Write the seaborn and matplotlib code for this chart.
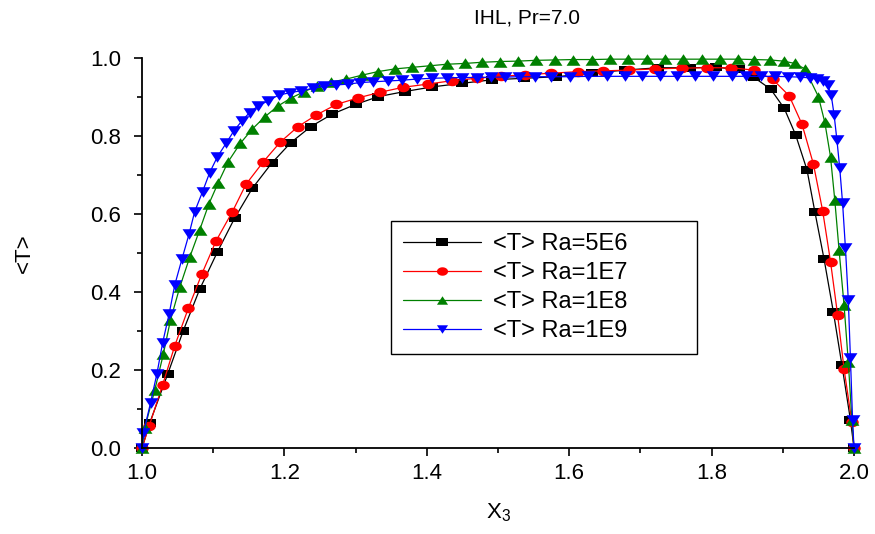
import matplotlib
matplotlib.use("Agg")
import matplotlib.pyplot as plt
import seaborn as sns
import numpy as np
import pandas as pd
from matplotlib.ticker import MultipleLocator, FormatStrFormatter
from matplotlib.path import Path

# ---- data ----
x_5e6 = [1.000, 1.011, 1.036, 1.058, 1.081, 1.106, 1.130, 1.155, 1.182, 1.209,
         1.237, 1.267, 1.300, 1.332, 1.369, 1.408, 1.449, 1.491, 1.537, 1.582,
         1.632, 1.678, 1.725, 1.770, 1.806, 1.839, 1.859, 1.883, 1.902, 1.918,
         1.934, 1.945, 1.958, 1.971, 1.983, 1.995, 2.000]
t_5e6 = [0.000, 0.065, 0.189, 0.301, 0.407, 0.503, 0.589, 0.666, 0.730, 0.783,
         0.824, 0.856, 0.881, 0.901, 0.914, 0.926, 0.935, 0.944, 0.948, 0.952,
         0.961, 0.969, 0.975, 0.975, 0.976, 0.971, 0.951, 0.920, 0.871, 0.803,
         0.713, 0.606, 0.484, 0.349, 0.213, 0.072, 0.000]

x_1e7 = [1.000, 1.010, 1.029, 1.046, 1.065, 1.084, 1.104, 1.127, 1.146, 1.170,
         1.194, 1.219, 1.245, 1.273, 1.304, 1.334, 1.367, 1.401, 1.436, 1.470,
         1.504, 1.538, 1.575, 1.612, 1.648, 1.684, 1.720, 1.758, 1.793, 1.827,
         1.859, 1.886, 1.909, 1.927, 1.943, 1.956, 1.967, 1.977, 1.986, 1.997,
         2.000]
t_1e7 = [0.000, 0.056, 0.162, 0.262, 0.358, 0.446, 0.531, 0.606, 0.676, 0.733,
         0.784, 0.824, 0.854, 0.881, 0.898, 0.912, 0.925, 0.933, 0.942, 0.948,
         0.953, 0.957, 0.961, 0.965, 0.967, 0.969, 0.972, 0.974, 0.975, 0.975,
         0.969, 0.945, 0.903, 0.830, 0.728, 0.608, 0.478, 0.341, 0.203, 0.067,
         0.000]

x_1e8 = [1.000, 1.004, 1.018, 1.030, 1.040, 1.053, 1.067, 1.081, 1.094, 1.107,
         1.121, 1.138, 1.155, 1.173, 1.191, 1.209, 1.228, 1.246, 1.265, 1.287,
         1.309, 1.331, 1.355, 1.379, 1.404, 1.428, 1.453, 1.477, 1.503, 1.528,
         1.553, 1.580, 1.606, 1.632, 1.657, 1.683, 1.709, 1.735, 1.760, 1.786,
         1.812, 1.837, 1.860, 1.882, 1.901, 1.917, 1.931, 1.950, 1.959, 1.967,
         1.973, 1.979, 1.986, 1.992, 1.997, 2.000]
t_1e8 = [0.000, 0.052, 0.149, 0.241, 0.328, 0.412, 0.489, 0.559, 0.626, 0.680,
         0.734, 0.781, 0.818, 0.850, 0.877, 0.897, 0.914, 0.928, 0.938, 0.946,
         0.956, 0.965, 0.972, 0.976, 0.980, 0.984, 0.986, 0.989, 0.991, 0.992,
         0.994, 0.995, 0.996, 0.996, 0.997, 0.997, 0.997, 0.997, 0.997, 0.997,
         0.997, 0.997, 0.996, 0.995, 0.992, 0.986, 0.972, 0.901, 0.835, 0.747,
         0.636, 0.508, 0.367, 0.221, 0.072, 0.000]

x_1e9 = [1.000, 1.002, 1.012, 1.021, 1.029, 1.038, 1.046, 1.056, 1.066, 1.074,
         1.085, 1.095, 1.106, 1.118, 1.129, 1.140, 1.151, 1.163, 1.177, 1.192,
         1.208, 1.223, 1.240, 1.256, 1.273, 1.290, 1.306, 1.325, 1.345, 1.365,
         1.386, 1.407, 1.428, 1.449, 1.470, 1.490, 1.510, 1.530, 1.552, 1.575,
         1.601, 1.627, 1.653, 1.678, 1.702, 1.728, 1.751, 1.777, 1.802, 1.828,
         1.849, 1.870, 1.889, 1.908, 1.924, 1.938, 1.948, 1.957, 1.963, 1.968,
         1.972, 1.976, 1.980, 1.984, 1.988, 1.992, 1.995, 1.998, 2.000]
t_1e9 = [0.000, 0.038, 0.116, 0.191, 0.270, 0.343, 0.418, 0.484, 0.548, 0.606,
         0.657, 0.706, 0.747, 0.781, 0.813, 0.838, 0.860, 0.877, 0.890, 0.905,
         0.911, 0.916, 0.922, 0.928, 0.931, 0.933, 0.937, 0.939, 0.941, 0.943,
         0.946, 0.948, 0.949, 0.950, 0.950, 0.951, 0.951, 0.952, 0.952, 0.952,
         0.952, 0.953, 0.953, 0.953, 0.953, 0.953, 0.953, 0.953, 0.953, 0.953,
         0.953, 0.953, 0.953, 0.952, 0.951, 0.949, 0.946, 0.940, 0.930, 0.905,
         0.855, 0.790, 0.717, 0.627, 0.512, 0.379, 0.230, 0.072, 0.000]

labels = ["<T> Ra=5E6", "<T> Ra=1E7", "<T> Ra=1E8", "<T> Ra=1E9"]
title = "IHL, Pr=7.0"
xticks = [1.0, 1.2, 1.4, 1.6, 1.8, 2.0]
yticks = [0.0, 0.2, 0.4, 0.6, 0.8, 1.0]

series = [(x_5e6, t_5e6), (x_1e7, t_1e7), (x_1e8, t_1e8), (x_1e9, t_1e9)]
colors = ["#000000", "#ff0000", "#008000", "#0000ff"]

# slightly wide (horizontally stretched) marker shapes, as in the reference
a = 0.76
theta = np.linspace(0, 2 * np.pi, 40)
m_square = Path([(-1, -a), (1, -a), (1, a), (-1, a), (-1, -a)], closed=True)
m_circle = Path(np.column_stack([np.cos(theta), a * np.sin(theta)]), closed=True)
m_up = Path([(-1, -a), (1, -a), (0, a), (-1, -a)], closed=True)
m_down = Path([(-1, a), (1, a), (0, -a), (-1, a)], closed=True)
markers = [m_square, m_circle, m_up, m_down]
msizes = [8.0, 9.0, 10.0, 10.0]

# ---- plot ----
sns.set_theme(style="white")
plt.rcParams["font.family"] = ["Liberation Sans", "DejaVu Sans"]
plt.rcParams["mathtext.fontset"] = "custom"
plt.rcParams["mathtext.rm"] = "Liberation Sans"
plt.rcParams["mathtext.it"] = "Liberation Sans"
plt.rcParams["text.color"] = "black"
plt.rcParams["axes.labelcolor"] = "black"

fig = plt.figure(figsize=(8.75, 5.34), dpi=100)
ax = fig.add_axes([142/875, 86/534, (854-142)/875, (448-58)/534])

for (xs, ts), lab, c, m, ms in zip(series, labels, colors, markers, msizes):
    df = pd.DataFrame({"x": xs, "T": ts})
    sns.lineplot(data=df, x="x", y="T", ax=ax, color=c, marker=m,
                 markersize=ms, markeredgewidth=0, linewidth=0.9,
                 estimator=None, sort=False, label=lab, clip_on=False)

ax.set_xlim(1.0, 2.0)
ax.set_ylim(0.0, 1.0)
ax.set_xticks(xticks)
ax.set_yticks(yticks)
ax.xaxis.set_minor_locator(MultipleLocator(0.1))
ax.yaxis.set_minor_locator(MultipleLocator(0.1))
ax.xaxis.set_major_formatter(FormatStrFormatter("%.1f"))
ax.yaxis.set_major_formatter(FormatStrFormatter("%.1f"))
ax.tick_params(axis="both", which="major", direction="out", length=6, width=1.2,
               labelsize=16, colors="black", bottom=True, left=True)
ax.tick_params(axis="y", which="major", pad=9)
ax.tick_params(axis="x", which="major", pad=5)
ax.tick_params(axis="both", which="minor", direction="out", length=3.5, width=1.2,
               bottom=True, left=True, colors="black")
for s in ["top", "right"]:
    ax.spines[s].set_visible(False)
for s in ["left", "bottom"]:
    ax.spines[s].set_color("black")
    ax.spines[s].set_linewidth(1.3)
ax.grid(False)

ax.set_xlabel("X$_3$", fontsize=16, labelpad=12)
ax.set_ylabel("<T>", fontsize=16, labelpad=40)

leg = ax.legend(loc="upper left", bbox_to_anchor=(0.35, 0.238, 0.43, 0.344),
                mode="expand", fontsize=17, frameon=True, fancybox=False,
                shadow=False, handlelength=3.3, handletextpad=0.5,
                labelspacing=0.3, borderpad=0.5, borderaxespad=0.0,
                edgecolor="black", framealpha=1)
leg.get_frame().set_linewidth(1.0)
for h in leg.legend_handles:
    h.set_markersize(8)

fig.text(527/875, 1 - 18/534, title, ha="center", va="center", fontsize=15)

fig.savefig("out.png", dpi=100)
